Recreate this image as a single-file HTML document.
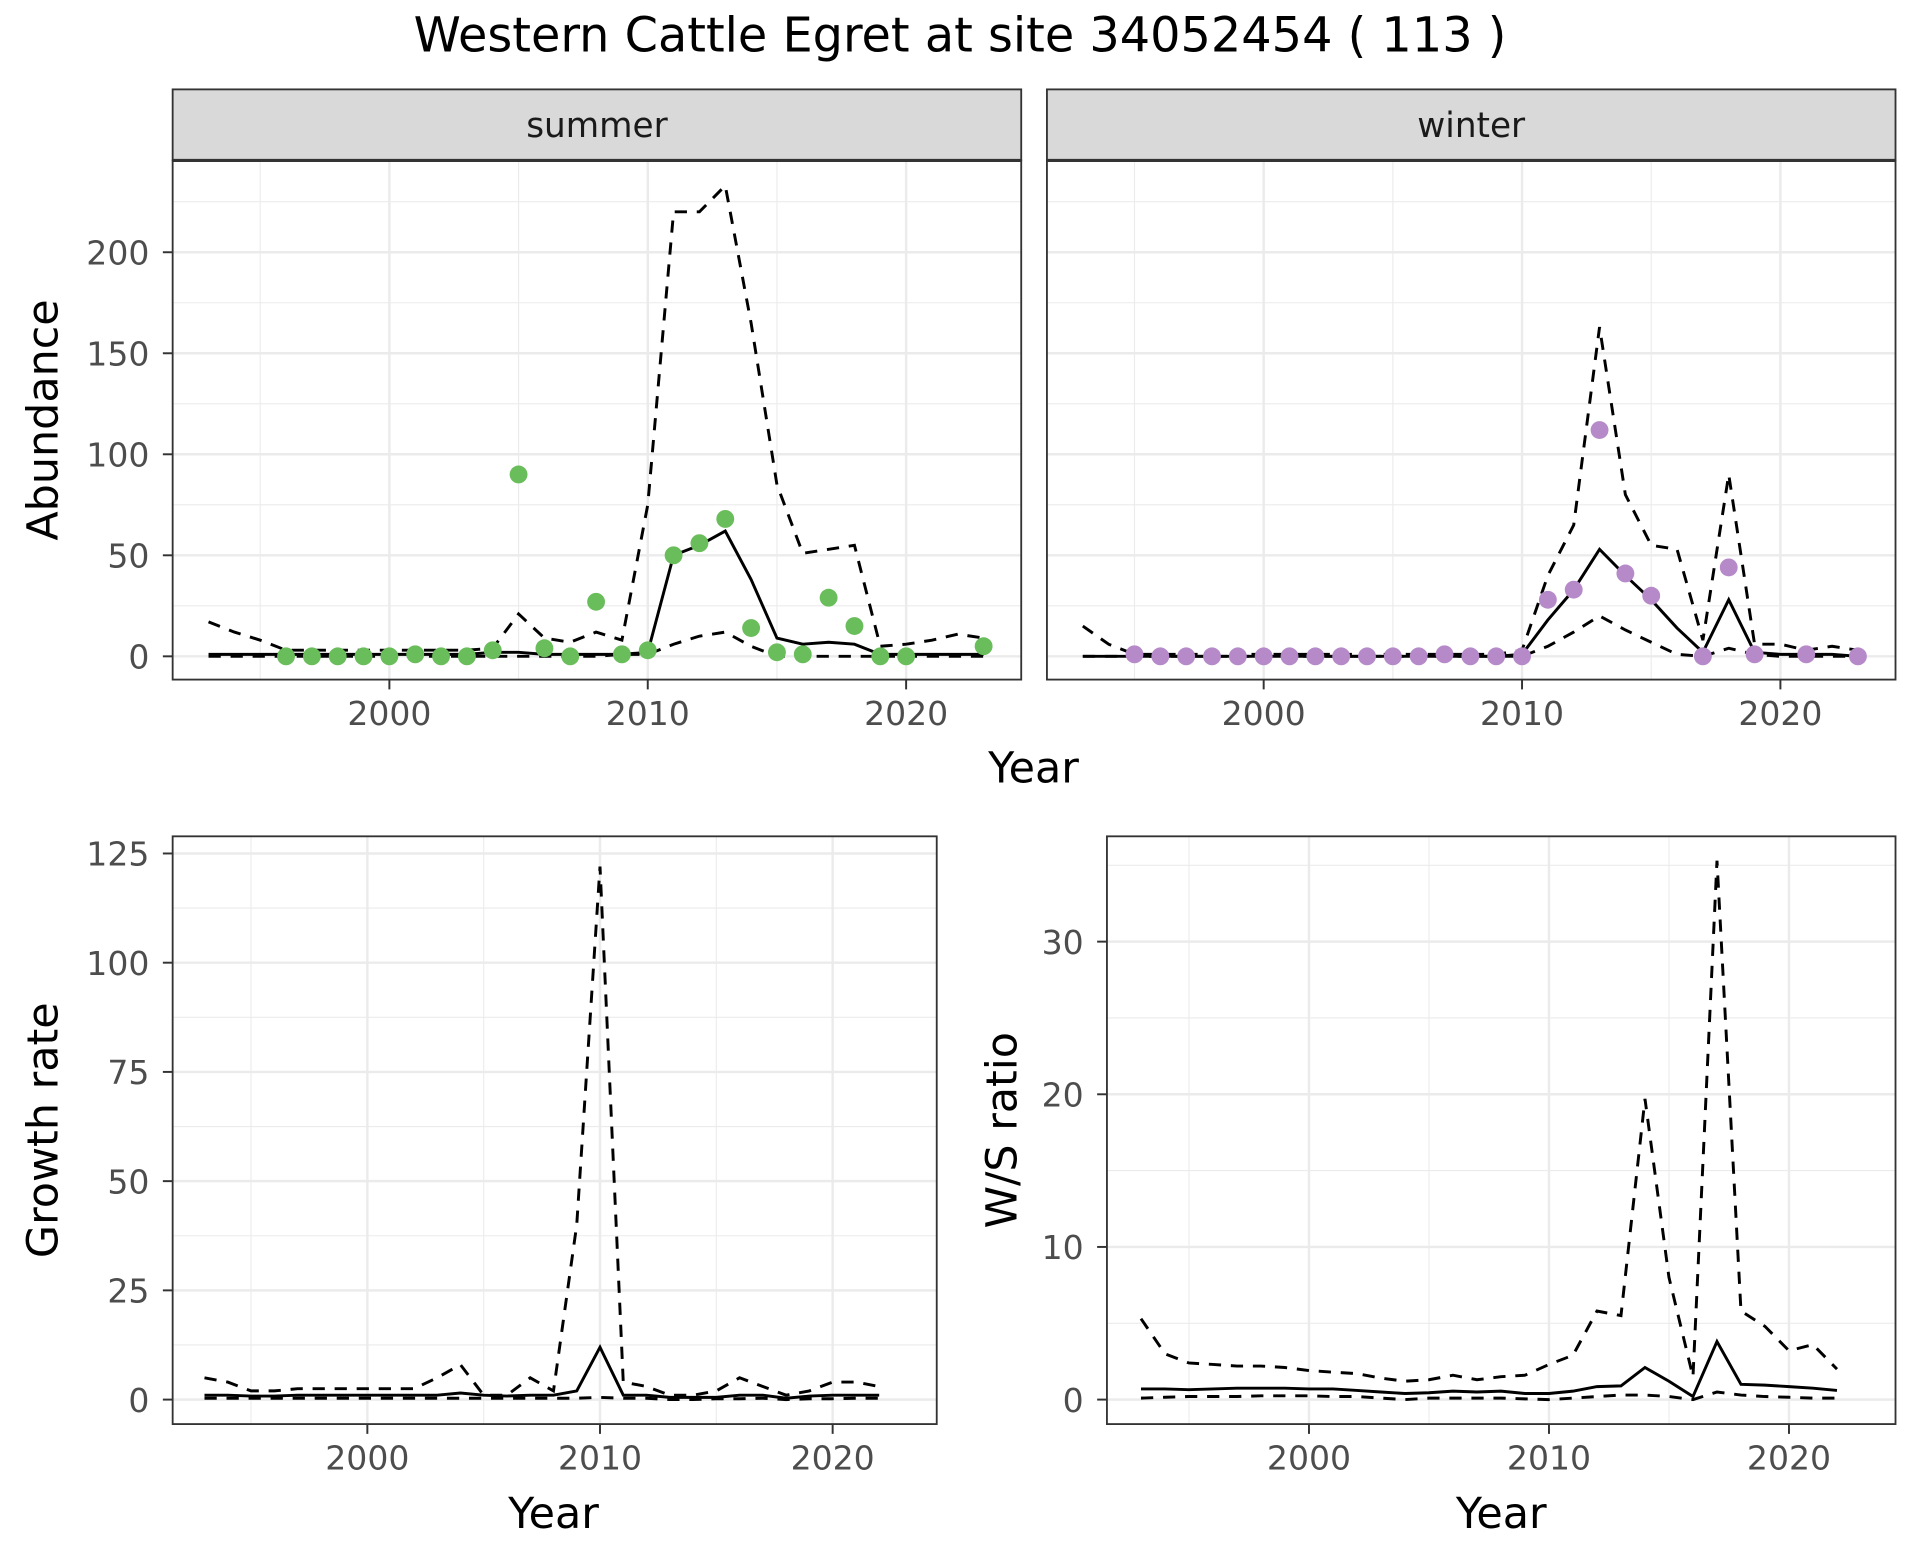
<!DOCTYPE html>
<html><head><meta charset="utf-8"><style>
html,body{margin:0;padding:0;background:#fff}
svg{display:block;font-family:"DejaVu Sans","Liberation Sans",sans-serif}
</style></head><body>
<svg id="c" width="1920" height="1560" viewBox="0 0 1568 1274" preserveAspectRatio="none" xmlns="http://www.w3.org/2000/svg">
<text x="784" y="42" font-size="39" text-anchor="middle" fill="#000">Western Cattle Egret at site 34052454 ( 113 )</text>
</svg>
<script>
const yearsS = [1993,1994,1995,1996,1997,1998,1999,2000,2001,2002,2003,2004,2005,2006,2007,2008,2009,2010,2011,2012,2013,2014,2015,2016,2017,2018,2019,2020,2021,2022,2023];
const sumMed = [1,1,1,1,1,1,1,1,1,1,1,2,2,1,1,1,1,2,50,55,62,38,9,6,7,6,1,1,1,1,1];
const sumUp = [17,12,8,3,3,3,3,3,3,3,3,4,21,9,7,12,8,75,220,220,233,165,85,51,53,55,5,6,8,11,9];
const sumLo = [0,0,0,0,0,0,0,0,0,0,0,0,0,0,0,0,1,1,6,10,12,5,0,0,0,0,0,0,0,0,0];
const sumPtYears = [1996,1997,1998,1999,2000,2001,2002,2003,2004,2005,2006,2007,2008,2009,2010,2011,2012,2013,2014,2015,2016,2017,2018,2019,2020,2023];
const sumPts = [0,0,0,0,0,1,0,0,3,90,4,0,27,1,3,50,56,68,14,2,1,29,15,0,0,5];
const winMed = [0,0,0,0,0,0,0,0,0,0,0,0,0,0,0,0,0,1,18,33,53,40,28,14,2,28,2,1,1,1,0];
const winUp = [15,6,1,1,1,1,1,1,1,1,1,1,1,1,1,1,1,3,40,65,163,80,55,53,8,90,6,6,3,5,3];
const winLo = [0,0,0,0,0,0,0,0,0,0,0,0,0,0,0,0,0,0,5,12,20,13,7,1,0,4,1,0,0,0,0];
const winPtYears = [1995,1996,1997,1998,1999,2000,2001,2002,2003,2004,2005,2006,2007,2008,2009,2010,2011,2012,2013,2014,2015,2017,2018,2019,2021,2023];
const winPts = [1,0,0,0,0,0,0,0,0,0,0,0,1,0,0,0,28,33,112,41,30,0,44,1,1,0];
const yearsB = [1993,1994,1995,1996,1997,1998,1999,2000,2001,2002,2003,2004,2005,2006,2007,2008,2009,2010,2011,2012,2013,2014,2015,2016,2017,2018,2019,2020,2021,2022];
const grMed = [1,1,0.8,0.8,1,1,1,1,1,1,1,1.5,1,0.8,1,1,2,12,1,1,0.5,0.5,0.5,1,1,0.3,0.8,1,1,1];
const grUp = [5,4,2,2,2.5,2.5,2.5,2.5,2.5,2.5,5,8,1,1,5,2,40,122,4,3,1,1,2,5,3,1,2,4,4,3];
const grLo = [0.3,0.3,0.3,0.3,0.3,0.3,0.3,0.3,0.3,0.3,0.3,0.3,0.3,0.3,0.3,0.3,0.3,0.5,0.3,0.3,0,0,0.2,0.2,0.3,0,0.2,0.2,0.3,0.3];
const wsMed = [0.7,0.7,0.65,0.7,0.75,0.75,0.75,0.7,0.7,0.6,0.5,0.4,0.45,0.55,0.5,0.55,0.4,0.4,0.55,0.85,0.9,2.1,1.2,0.2,3.8,1.0,0.95,0.85,0.75,0.6];
const wsUp = [5.3,3.0,2.4,2.3,2.2,2.2,2.1,1.9,1.8,1.7,1.4,1.2,1.3,1.6,1.3,1.5,1.6,2.3,2.9,5.8,5.5,19.7,8,1.5,35.3,5.8,4.8,3.2,3.6,2.0];
const wsLo = [0.1,0.15,0.2,0.2,0.2,0.25,0.25,0.25,0.2,0.2,0.1,0,0.1,0.1,0.1,0.1,0.05,0,0.1,0.2,0.3,0.3,0.2,0,0.5,0.3,0.2,0.15,0.1,0.1];
const xTicks = [2000,2010,2020];
const xMinor = [1995,2005,2015];
const absTicks = [0,50,100,150,200];
const absMinor = [25,75,125,175,225];
const grTicks = [0,25,50,75,100,125];
const grMinor = [12.5,37.5,62.5,87.5,112.5];
const wsTicks = [0,10,20,30];
const wsMinor = [5,15,25,35];

const svg = document.getElementById('c');
const NS = 'http://www.w3.org/2000/svg';
const TICK = 27;
function mk(tag, attrs, parent){const e=document.createElementNS(NS,tag);for(const k in attrs)e.setAttribute(k,attrs[k]);(parent||svg).appendChild(e);return e;}
function lin(d0,d1,r0,r1){return v=>r0+(v-d0)*(r1-r0)/(d1-d0);}

function panel(name,x0,x1,y0,y1,xs,ys,yT,yM,showY,g){
  const bg=mk('rect',{x:x0,y:y0,width:x1-x0,height:y1-y0,fill:'#fff'},g);
  
  
  xMinor.forEach(v=>{const l=mk('line',{x1:xs(v),x2:xs(v),y1:y0,y2:y1,stroke:'#ebebeb','stroke-width':0.9},g);});
  yM.forEach(v=>{const l=mk('line',{x1:x0,x2:x1,y1:ys(v),y2:ys(v),stroke:'#ebebeb','stroke-width':0.9},g);});
  xTicks.forEach(v=>{const l=mk('line',{x1:xs(v),x2:xs(v),y1:y0,y2:y1,stroke:'#ebebeb','stroke-width':2},g);
    const t=mk('line',{x1:xs(v),x2:xs(v),y1:y1,y2:y1+8,stroke:'#333','stroke-width':1.6},g);
    const tx=mk('text',{x:xs(v),y:y1+37,'font-size':TICK,fill:'#4d4d4d','text-anchor':'middle'},g);tx.textContent=v;});
  yT.forEach(v=>{const l=mk('line',{x1:x0,x2:x1,y1:ys(v),y2:ys(v),stroke:'#ebebeb','stroke-width':2},g);
    if(showY){const t=mk('line',{x1:x0-8,x2:x0,y1:ys(v),y2:ys(v),stroke:'#333','stroke-width':1.6},g);
    const tx=mk('text',{x:x0-19,y:ys(v)+10,'font-size':TICK,fill:'#4d4d4d','text-anchor':'end'},g);tx.textContent=v;}});
}
function line(g,xsArr,vals,xs,ys,dash,name){
  const d=vals.map((v,i)=>(i?'L':'M')+xs(xsArr[i]).toFixed(1)+','+ys(v).toFixed(1)).join('');
  const p=mk('path',{d:d,fill:'none',stroke:'#000','stroke-width':2.4,'stroke-dasharray':dash?'10,8':'none'},g);
  
  
}
function pts(g,xsArr,vals,xs,ys,col,name){
  vals.forEach((v,i)=>{const c=mk('circle',{cx:xs(xsArr[i]),cy:ys(v),r:7.3,fill:col},g);
  
  });
}
function border(g,x0,x1,y0,y1){const b=mk('rect',{x:x0,y:y0,width:x1-x0,height:y1-y0,fill:'none',stroke:'#333','stroke-width':1.5},g);}
function strip(g,x0,x1,label){
  const r=mk('rect',{x:x0,y:73,width:x1-x0,height:58,fill:'#d9d9d9',stroke:'#333','stroke-width':1.5},g);
  
  const l=mk('line',{x1:x0,x2:x1,y1:131,y2:131,stroke:'#333','stroke-width':2.5},g);
  
  const t=mk('text',{x:(x0+x1)/2,y:112,'font-size':28,fill:'#1a1a1a','text-anchor':'middle'},g);t.textContent=label;
  
}
function ylab(text,x,y,name){const t=mk('text',{x:x,y:y,'font-size':35,fill:'#000','text-anchor':'middle',transform:'rotate(-90 '+x+' '+y+')'});t.textContent=text;}
function xlab(text,x,y,name){const t=mk('text',{x:x,y:y,'font-size':35,fill:'#000','text-anchor':'middle'});t.textContent=text;}

const gS=mk('g',{});
const xsS=lin(2000,2020,318,740), yAbs=lin(0,200,536,206);
panel('summer',141,834,131,555,xsS,yAbs,absTicks,absMinor,true,gS);
line(gS,yearsS,sumUp,xsS,yAbs,true,'summer-upper-ci');
line(gS,yearsS,sumLo,xsS,yAbs,true,'summer-lower-ci');
line(gS,yearsS,sumMed,xsS,yAbs,false,'summer-median');
pts(gS,sumPtYears,sumPts,xsS,yAbs,'#6abd5b','summer-count-point');
border(gS,141,834,131,555);strip(gS,141,834,'summer');
const gW=mk('g',{});
const xsW=lin(2000,2020,1032,1454);
panel('winter',855,1548,131,555,xsW,yAbs,absTicks,absMinor,false,gW);
line(gW,yearsS,winUp,xsW,yAbs,true,'winter-upper-ci');
line(gW,yearsS,winLo,xsW,yAbs,true,'winter-lower-ci');
line(gW,yearsS,winMed,xsW,yAbs,false,'winter-median');
pts(gW,winPtYears,winPts,xsW,yAbs,'#b68ac9','winter-count-point');
border(gW,855,1548,131,555);strip(gW,855,1548,'winter');
ylab('Abundance',47,343,'y-axis-title-abundance');
xlab('Year',844,639,'x-axis-title-top');
const gG=mk('g',{});
const xsG=lin(2000,2020,300,680), yG=lin(0,125,1143,697);
panel('growth',141,765,683,1163,xsG,yG,grTicks,grMinor,true,gG);
line(gG,yearsB,grUp,xsG,yG,true,'growth-upper-ci');
line(gG,yearsB,grLo,xsG,yG,true,'growth-lower-ci');
line(gG,yearsB,grMed,xsG,yG,false,'growth-median');
border(gG,141,765,683,1163);
ylab('Growth rate',47,923,'y-axis-title-growth');
xlab('Year',452,1248,'x-axis-title-growth');
const gR=mk('g',{});
const xsR=lin(2000,2020,1069,1461), yR=lin(0,30,1143,769);
panel('ws',904,1548,683,1163,xsR,yR,wsTicks,wsMinor,true,gR);
line(gR,yearsB,wsUp,xsR,yR,true,'ws-upper-ci');
line(gR,yearsB,wsLo,xsR,yR,true,'ws-lower-ci');
line(gR,yearsB,wsMed,xsR,yR,false,'ws-median');
border(gR,904,1548,683,1163);
ylab('W/S ratio',830,923,'y-axis-title-ws');
xlab('Year',1226,1248,'x-axis-title-ws');
</script>
</body></html>
